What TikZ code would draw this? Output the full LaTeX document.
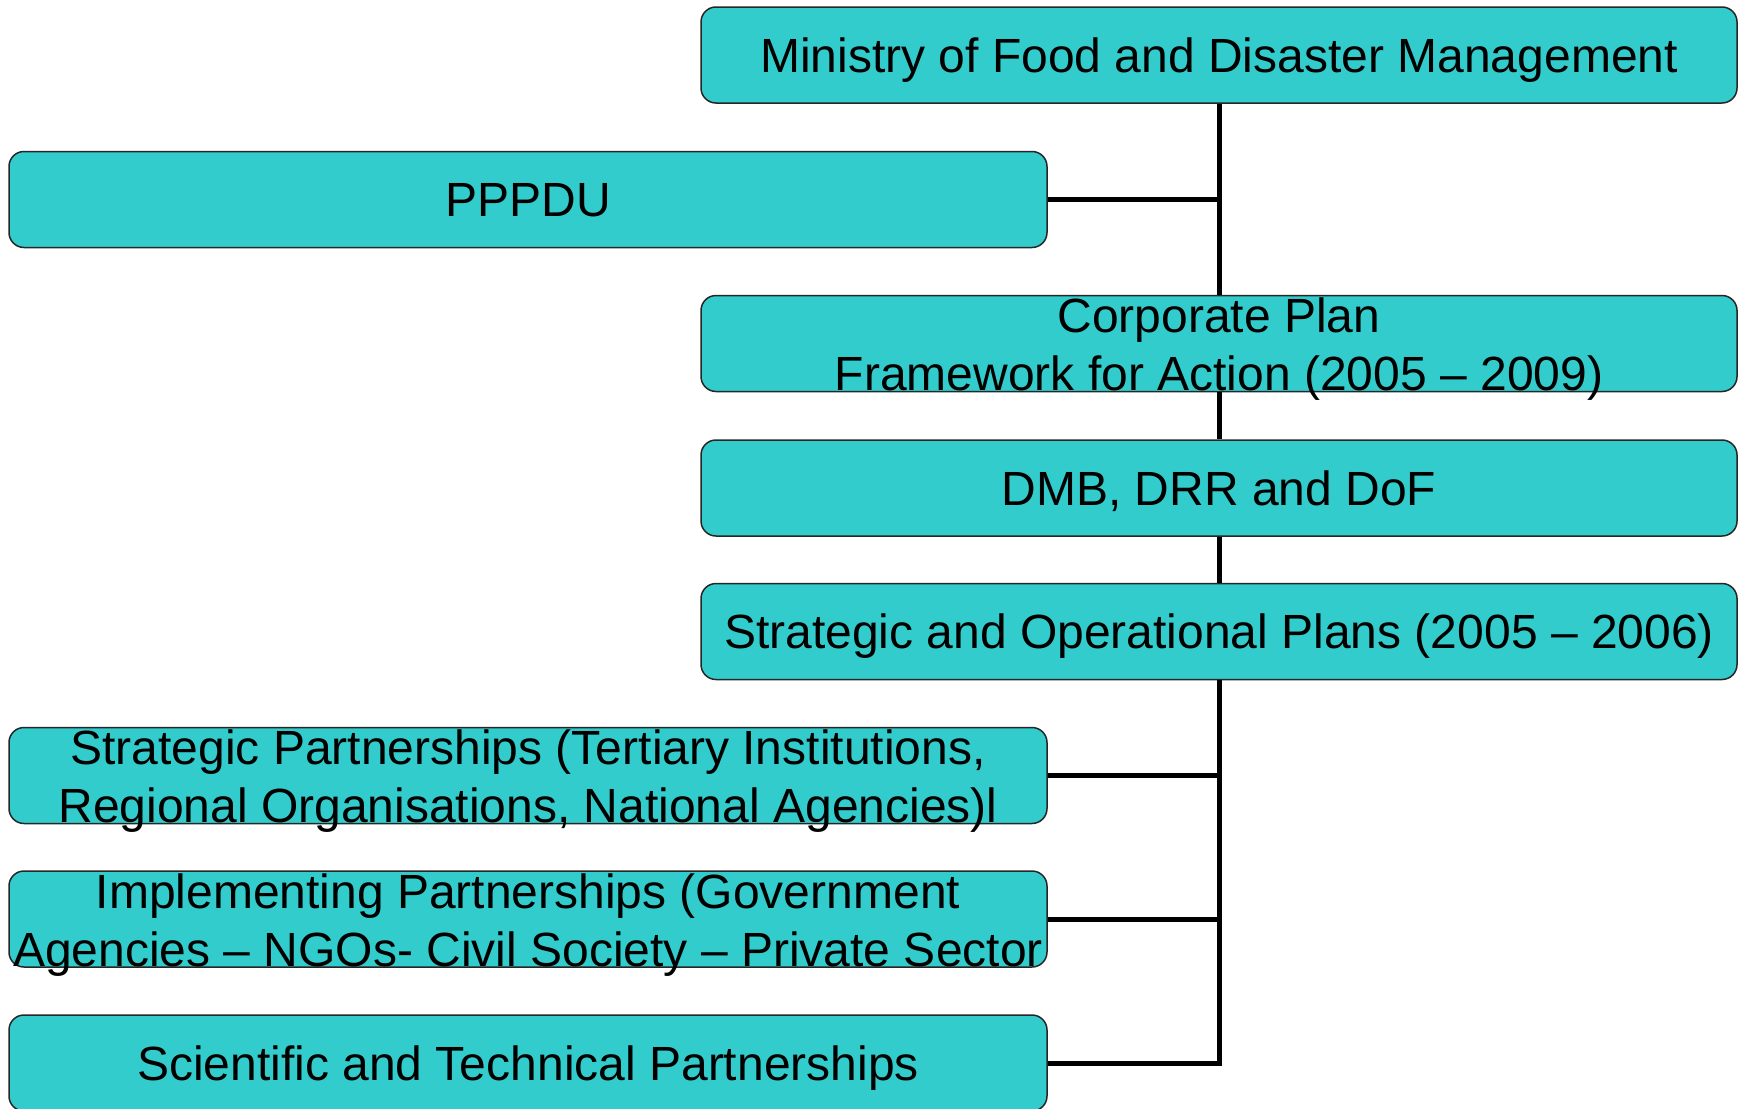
\documentclass[tikz,border=0pt]{standalone}
\usepackage{fontspec}
\setmainfont{Liberation Sans}
\definecolor{boxfill}{RGB}{51,204,204}

\begin{document}
\begin{tikzpicture}[x=0.5pt,y=-0.5pt,
    unitbox/.style={draw=black!85, line width=0.75pt, fill=boxfill,
      rounded corners=7.5pt, minimum width=518pt, minimum height=48pt, inner sep=0pt},
    unittext/.style={inner sep=0pt, align=center, font=\fontsize{24}{29}\selectfont},
    oneline/.style={text height=17.2pt, text depth=0pt},
    link/.style={line width=2.5pt}]

\useasboundingbox (0,0) rectangle (1743,1108);

\def\rcol{1219}
\def\lcol{528}

% boxes
    \node[unitbox] (mofdm) at (\rcol,55) {};
    \node[unitbox, minimum width=519pt] (pppdu) at (\lcol,199.5) {};
    \node[unitbox] (corp) at (\rcol,343.5) {};
    \node[unitbox] (dmb) at (\rcol,488) {};
    \node[unitbox] (ops) at (\rcol,631.5) {};
    \node[unitbox, minimum width=519pt] (strat) at (\lcol,775.5) {};
    \node[unitbox, minimum width=519pt] (impl) at (\lcol,919) {};
    \node[unitbox, minimum width=519pt] (sci) at (\lcol,1063) {};

% links
    \draw[link] (mofdm.south) -- (corp.north);
    \draw[link] (pppdu.east) -- (pppdu.east -| mofdm.south);
    \draw[link] (corp.south) -- (dmb.north);
    \draw[link] (dmb.south) -- (ops.north);
    \draw[link] (ops.south) |- (sci.east);
    \draw[link] (strat.east) -- (strat.east -| ops.south);
    \draw[link] (impl.east) -- (impl.east -| ops.south);

% texts
    \node[unittext, oneline] (mofdm-t) at (mofdm) {Ministry of Food and Disaster Management};
    \node[unittext, oneline] (pppdu-t) at (pppdu) {PPPDU};
    \node[unittext] (corp-t) at ([yshift=-3pt]corp.center) {Corporate Plan\\Framework for Action (2005 -- 2009)};
    \node[unittext, oneline] (dmb-t) at (dmb) {DMB, DRR and DoF};
    \node[unittext, oneline] (ops-t) at (ops) {Strategic and Operational Plans (2005 -- 2006)};
    \node[unittext] (strat-t) at ([yshift=-3pt]strat.center) {Strategic Partnerships (Tertiary Institutions,\\Regional Organisations, National Agencies)l};
    \node[unittext] (impl-t) at ([yshift=-3pt]impl.center) {Implementing Partnerships (Government\\Agencies -- NGOs- Civil Society -- Private Sector};
    \node[unittext, oneline] (sci-t) at (sci) {Scientific and Technical Partnerships};
\end{tikzpicture}
\end{document}
